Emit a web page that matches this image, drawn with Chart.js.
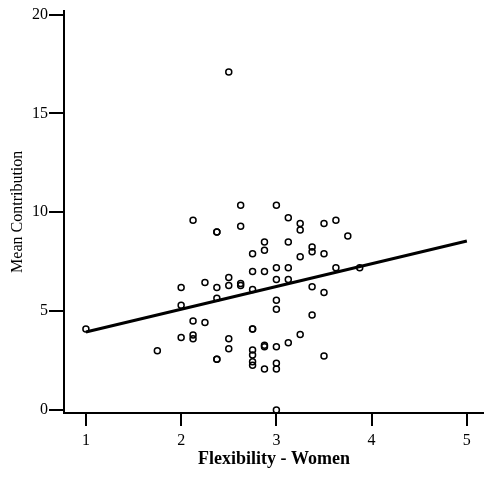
<!DOCTYPE html>
<html>
<head>
<meta charset="utf-8">
<script src="https://cdn.jsdelivr.net/npm/chart.js@4.4.0/dist/chart.umd.min.js"></script>
<style>
  body { margin: 0; background: #fff; }
</style>
</head>
<body>
<canvas id="grafico" width="484" height="480"></canvas>
<script>
// datos
const flexX = [
  1,
  1.75,
  2, 2, 2,
  2.125, 2.125, 2.125, 2.125,
  2.25, 2.25,
  2.375, 2.375, 2.375, 2.375, 2.375, 2.375,
  2.5, 2.5, 2.5, 2.5, 2.5,
  2.625, 2.625, 2.625, 2.625,
  2.75, 2.75, 2.75, 2.75, 2.75, 2.75, 2.75, 2.75, 2.75,
  2.875, 2.875, 2.875, 2.875, 2.875, 2.875,
  3, 3, 3, 3, 3, 3, 3, 3, 3,
  3.125, 3.125, 3.125, 3.125, 3.125,
  3.25, 3.25, 3.25, 3.25,
  3.375, 3.375, 3.375, 3.375,
  3.5, 3.5, 3.5, 3.5,
  3.625, 3.625,
  3.75,
  3.875
];
const contribY = [
  4.1,
  3.0,
  6.2, 5.3, 3.67,
  9.6, 4.5, 3.8, 3.6,
  6.45, 4.43,
  9.0, 9.0, 6.2, 5.65, 2.57, 2.57,
  17.1, 6.7, 6.3, 3.6, 3.1,
  10.35, 9.3, 6.4, 6.3,
  7.9, 7.0, 6.1, 4.1, 4.1, 3.03, 2.78, 2.44, 2.27,
  8.5, 8.08, 7.0, 3.28, 3.2, 2.07,
  10.35, 7.2, 6.6, 5.55, 5.1, 3.2, 2.36, 2.07, 0,
  9.73, 8.5, 7.2, 6.6, 3.4,
  9.43, 9.1, 7.75, 3.82,
  8.25, 8.0, 6.23, 4.8,
  9.43, 7.9, 5.95, 2.73,
  9.6, 7.2,
  8.8,
  7.2
];
// recta de regresion
const lineaX = [1, 5];
const lineaY = [3.95, 8.55];

const ticksX = [1, 2, 3, 4, 5];
const ticksY = [0, 5, 10, 15, 20];

const fuente = "'Liberation Serif', 'Times New Roman', serif";

var ctx = document.getElementById('grafico').getContext('2d');

var puntos = flexX.map((x, i) => ({ x: x, y: contribY[i] }));
var recta = lineaX.map((x, i) => ({ x: x, y: lineaY[i] }));

var myChart = new Chart(ctx, {
  type: 'scatter',
  data: {
    datasets: [
      {
        label: 'Observados',
        data: puntos,
        pointStyle: 'circle',
        pointRadius: 3,
        borderColor: '#000',
        backgroundColor: 'rgba(0,0,0,0)',
        borderWidth: 1.5,
        showLine: false
      },
      {
        label: 'Ajuste',
        data: recta,
        showLine: true,
        borderColor: '#000',
        borderWidth: 3,
        pointRadius: 0,
        fill: false
      }
    ]
  },
  options: {
    responsive: false,
    animation: false,
    layout: { autoPadding: false, padding: { top: 10, right: 0, left: 0, bottom: 10 } },
    plugins: {
      legend: { display: false },
      tooltip: { enabled: false }
    },
    scales: {
      x: {
        type: 'linear',
        min: 0.77,
        max: 5.18,
        afterBuildTicks: (scale) => { scale.ticks = ticksX.map(v => ({ value: v })); },
        afterFit: (scale) => { scale.height = 57; },
        grid: { drawOnChartArea: false, drawTicks: true, tickLength: 13, color: '#000', lineWidth: 2 },
        border: { display: true, color: '#000', width: 2 },
        ticks: { color: '#000', padding: 5, font: { family: fuente, size: 16 } },
        title: {
          display: true,
          text: 'Flexibility - Women',
          color: '#000',
          padding: { top: 0, bottom: 0 },
          font: { family: fuente, size: 18, weight: 'bold' }
        }
      },
      y: {
        type: 'linear',
        min: -0.15,
        max: 20.2,
        afterBuildTicks: (scale) => { scale.ticks = ticksY.map(v => ({ value: v })); },
        afterFit: (scale) => { scale.width = 64; },
        grid: { drawOnChartArea: false, drawTicks: true, tickLength: 15, color: '#000', lineWidth: 2 },
        border: { display: true, color: '#000', width: 2 },
        ticks: { color: '#000', padding: 1, font: { family: fuente, size: 16 } },
        title: {
          display: true,
          text: 'Mean Contribution',
          color: '#000',
          padding: { top: 8, bottom: 0 },
          font: { family: fuente, size: 16 }
        }
      }
    }
  }
});
</script>
</body>
</html>
